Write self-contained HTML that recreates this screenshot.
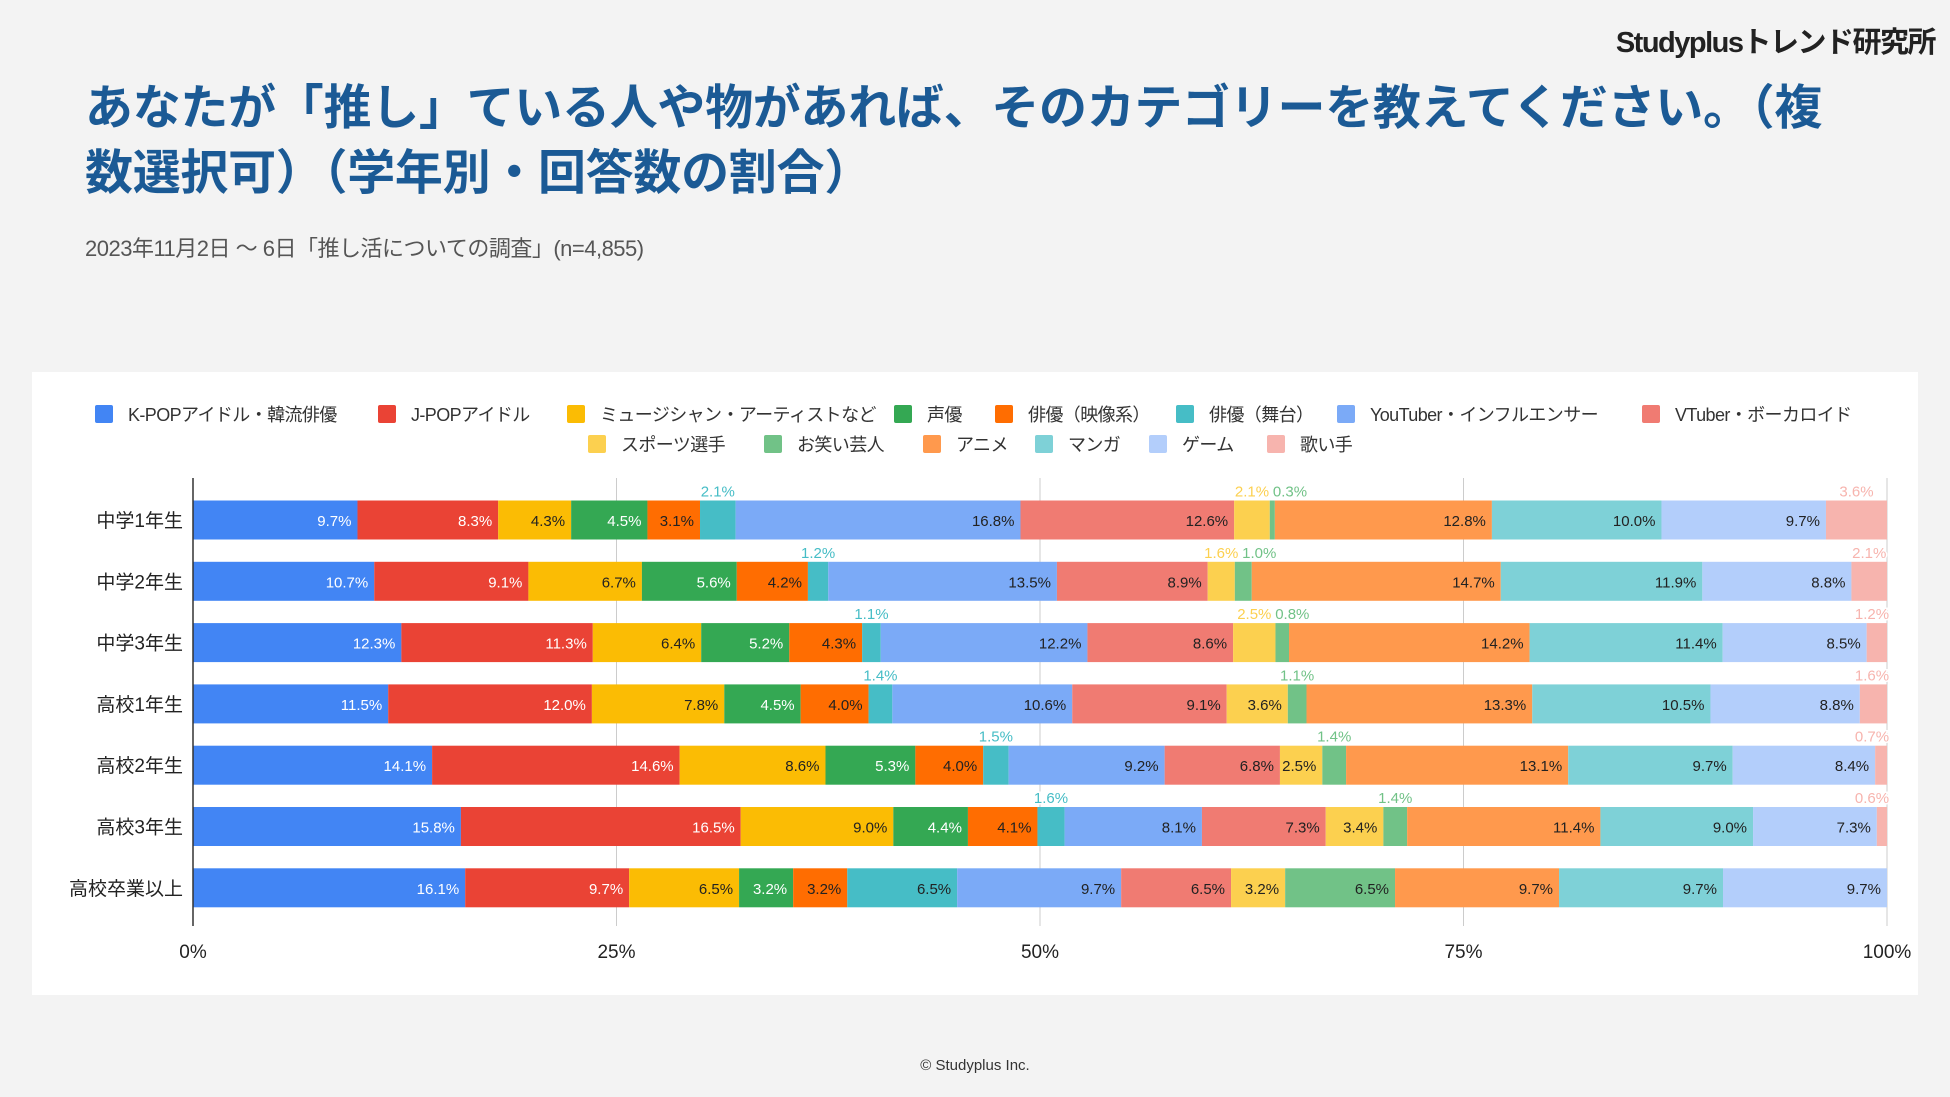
<!DOCTYPE html>
<html><head><meta charset="utf-8">
<style>
html,body{margin:0;padding:0;background:#f3f3f3;}
body{width:1950px;height:1097px;position:relative;overflow:hidden;font-family:"Liberation Sans","Noto Sans CJK JP",sans-serif;}
.t{position:absolute;white-space:nowrap;}
</style></head><body>
<div class="t" style="right:15px;top:19px;font-size:29px;font-weight:bold;color:#222;letter-spacing:-1.5px;">Studyplusトレンド研究所</div>
<div class="t" style="left:85px;top:76px;font-size:48px;font-weight:bold;color:#1b5a95;line-height:65px;letter-spacing:-0.3px;">あなたが「推し」ている人や物があれば、そのカテゴリーを教えてください。（複<br>数選択可）（学年別・回答数の割合）</div>
<div class="t" style="left:85px;top:231px;font-size:22px;color:#555;letter-spacing:-0.5px;">2023年11月2日 ～ 6日「推し活についての調査」(n=4,855)</div>
<div class="t" style="left:0;width:1950px;text-align:center;top:1057px;font-size:15px;color:#333;">© Studyplus Inc.</div>
<svg id="chart" width="1950" height="1097" style="position:absolute;left:0;top:0;" xmlns="http://www.w3.org/2000/svg"></svg>
<script>
const categories = ["中学1年生","中学2年生","中学3年生","高校1年生","高校2年生","高校3年生","高校卒業以上"];
const seriesNames = ["K-POPアイドル・韓流俳優","J-POPアイドル","ミュージシャン・アーティストなど","声優","俳優（映像系）","俳優（舞台）","YouTuber・インフルエンサー","VTuber・ボーカロイド","スポーツ選手","お笑い芸人","アニメ","マンガ","ゲーム","歌い手"];
const kpop    = [9.7,10.7,12.3,11.5,14.1,15.8,16.1];
const jpop    = [8.3,9.1,11.3,12.0,14.6,16.5,9.7];
const musician= [4.3,6.7,6.4,7.8,8.6,9.0,6.5];
const seiyu   = [4.5,5.6,5.2,4.5,5.3,4.4,3.2];
const actorTv = [3.1,4.2,4.3,4.0,4.0,4.1,3.2];
const actorSt = [2.1,1.2,1.1,1.4,1.5,1.6,6.5];
const youtuber= [16.8,13.5,12.2,10.6,9.2,8.1,9.7];
const vtuber  = [12.6,8.9,8.6,9.1,6.8,7.3,6.5];
const sports  = [2.1,1.6,2.5,3.6,2.5,3.4,3.2];
const comedian= [0.3,1.0,0.8,1.1,1.4,1.4,6.5];
const anime   = [12.8,14.7,14.2,13.3,13.1,11.4,9.7];
const manga   = [10.0,11.9,11.4,10.5,9.7,9.0,9.7];
const game    = [9.7,8.8,8.5,8.8,8.4,7.3,9.7];
const utaite  = [3.6,2.1,1.2,1.6,0.7,0.6,0];
const tickLabels = ["0%","25%","50%","75%","100%"];
const tickValues = [0,25,50,75,100];
const series = [kpop,jpop,musician,seiyu,actorTv,actorSt,youtuber,vtuber,sports,comedian,anime,manga,game,utaite];
const colors = ["#4285f4","#ea4335","#fbbc04","#34a853","#ff6d01","#46bdc6","#7baaf7","#f07b72","#fcd04f","#71c287","#ff994d","#7ed1d7","#b3cefb","#f7b4ae"];
const whiteText = [true,true,false,true,false,false,false,false,false,false,false,false,false,false];

const NS="http://www.w3.org/2000/svg";
const svg=document.getElementById('chart');
function mk(tag,attrs,parent){const e=document.createElementNS(NS,tag);for(const k in attrs)e.setAttribute(k,attrs[k]);(parent||svg).appendChild(e);return e;}
const PL=193, PR=1887, PT=478, PB=926;
const xS=v=>PL+(PR-PL)*v/100;
const rowY=i=>520+i*61.3;
const BH=39;

const card=mk('rect',{x:32,y:372,width:1886,height:623,fill:'#ffffff'});



// legend
const leg1=[95,378,567,894,995,1176,1337,1642];
const leg2=[588,764,923,1035,1149,1267];
seriesNames.forEach((n,i)=>{
  const g=mk('g',{});
  
  
  const x=i<8?leg1[i]:leg2[i-8], y=i<8?414:444;
  mk('rect',{x:x,y:y-9,width:18,height:18,rx:2,fill:colors[i]},g);
  const t=mk('text',{x:x+33,y:y+7,'font-size':18,'letter-spacing':-0.6,fill:'#333'},g);
  t.textContent=n;
});

// grid
tickValues.forEach((v,i)=>{
  if(v>0){const l=mk('line',{x1:xS(v),x2:xS(v),y1:PT,y2:PB,stroke:'#cccccc','stroke-width':1});
  
  }
  const t=mk('text',{x:xS(v),y:958,'font-size':19,'text-anchor':'middle',fill:'#222'});
  
  
  t.textContent=tickLabels[i];
});

categories.forEach((c,r)=>{
  const y=rowY(r);
  const lab=mk('text',{x:183,y:y+7,'font-size':19,'text-anchor':'end',fill:'#222'});
  
  
  lab.textContent=c;
  let sum=0; series.forEach(s=>sum+=s[r]);
  let acc=0; let lastOutRight=-1e9;
  series.forEach((s,k)=>{
    const v=s[r]; if(v<=0) return;
    const x0=xS(acc/sum*100); acc+=v; const x1=xS(acc/sum*100);
    const rect=mk('rect',{x:x0,y:y-BH/2,width:x1-x0,height:BH,fill:colors[k]});
    
    
    const next=k<series.length-1?series[k+1][r]:99;
    const outside = v<2.2 || (v<3 && next<1) || k===series.length-1;
    const txt=v.toFixed(1)+'%';
    if(outside){
      let cx=(x0+x1)/2; const w=34;
      if(cx-w/2<lastOutRight+4) cx=lastOutRight+4+w/2;
      if(cx+w/2>PR+2) cx=PR+2-w/2;
      lastOutRight=cx+w/2;
      const t=mk('text',{x:cx,y:y-BH/2-4,'font-size':15,'text-anchor':'middle',fill:colors[k],stroke:'#fff','stroke-width':3,'paint-order':'stroke'});
      
      
      t.textContent=txt;
    } else {
      const t=mk('text',{x:x1-6,y:y+6,'font-size':15,'text-anchor':'end',fill:whiteText[k]?'#ffffff':'#222'});
      
      
      t.textContent=txt;
    }
  });
});
const ax=mk('line',{x1:PL,x2:PL,y1:PT,y2:PB,stroke:'#333','stroke-width':1.5});


</script>
</body></html>
